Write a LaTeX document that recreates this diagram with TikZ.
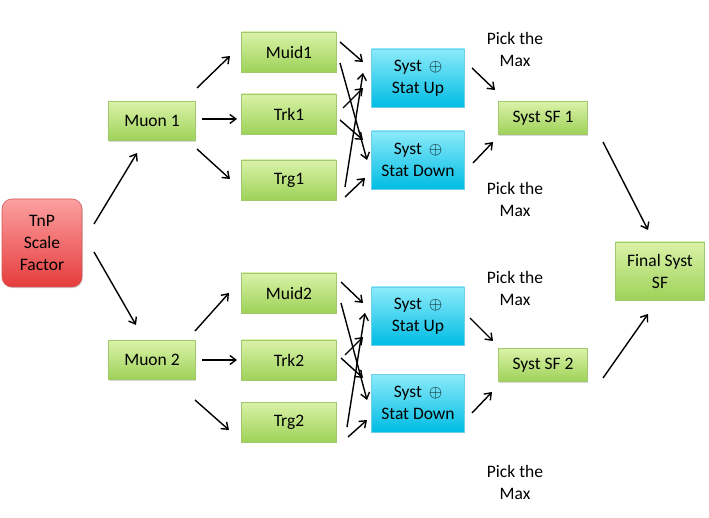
\documentclass[tikz,border=0pt]{standalone}
\usepackage{fontspec}
\setmainfont{Carlito}
\usetikzlibrary{arrows.meta,shadows}
\definecolor{gtop}{RGB}{218,242,168}
\definecolor{gbot}{RGB}{158,210,88}
\definecolor{gline}{RGB}{160,200,110}
\definecolor{ctop}{RGB}{140,235,250}
\definecolor{cbot}{RGB}{0,188,228}
\definecolor{cline}{RGB}{110,205,235}
\definecolor{rtop}{RGB}{252,160,160}
\definecolor{rbot}{RGB}{230,60,60}
\definecolor{rline}{RGB}{210,90,90}
\tikzset{
  base/.style={rectangle,align=center,inner sep=0pt,font=\fontsize{17.5}{22}\selectfont,
    drop shadow={shadow xshift=0.8pt,shadow yshift=-1.2pt,opacity=0.3}},
  gbox/.style={base,draw=gline,line width=0.6pt,top color=gtop,bottom color=gbot},
  cbox/.style={base,draw=cline,line width=0.6pt,top color=ctop,bottom color=cbot,
    minimum width=93pt,minimum height=58pt},
  rbox/.style={base,draw=rline,line width=0.6pt,top color=rtop,bottom color=rbot,
    rounded corners=10pt,minimum width=80pt,minimum height=88pt},
  mid/.style={gbox,minimum width=95pt,minimum height=40pt},
  muon/.style={gbox,minimum width=87pt,minimum height=39pt},
  sfbox/.style={gbox,minimum width=89pt,minimum height=33pt},
  pick/.style={align=center,font=\fontsize{17.5}{22}\selectfont},
  arr/.style={-{Straight Barb[length=6pt,width=9pt]},line width=1.4pt,black}
}
\begin{document}
\begin{tikzpicture}[x=1pt,y=-1pt]
\useasboundingbox (0,0) rectangle (709,518);
% nodes
\node[rbox] (tnp) at (42,243) {TnP\\Scale\\Factor};
\node[muon] (m1) at (152,121) {Muon 1};
\node[muon] (m2) at (152,360) {Muon 2};
\node[mid] (muid1) at (289,52) {Muid1};
\node[mid] (trk1) at (289,114) {Trk1};
\node[mid] (trg1) at (289,180) {Trg1};
\node[mid] (muid2) at (289,293) {Muid2};
\node[mid] (trk2) at (289,360) {Trk2};
\node[mid] (trg2) at (289,422) {Trg2};
\node[cbox] (up1) at (418,78) {Syst \,$\oplus$\\Stat Up};
\node[cbox] (dn1) at (418,160) {Syst \,$\oplus$\\Stat Down};
\node[cbox] (up2) at (418,316) {Syst \,$\oplus$\\Stat Up};
\node[cbox] (dn2) at (418,403) {Syst \,$\oplus$\\Stat Down};
\node[sfbox] (sf1) at (543,118) {Syst SF 1};
\node[sfbox] (sf2) at (543,365) {Syst SF 2};
\node[gbox,minimum width=89pt,minimum height=58pt] (fin) at (660,271) {Final Syst\\SF};
\node[pick] (p1) at (515,49) {Pick the\\Max};
\node[pick] (p2) at (515,199) {Pick the\\Max};
\node[pick] (p3) at (515,288) {Pick the\\Max};
\node[pick] (p4) at (515,482) {Pick the\\Max};
% arrows: TnP to muons
\draw[arr] ([shift={(52,-19)}]tnp.center) -- ([shift={(-15,32)}]m1.center);
\draw[arr] ([shift={(52,9)}]tnp.center) -- ([shift={(-16,-35)}]m2.center);
% muon 1 fan-out
\draw[arr] ([shift={(45,-33)}]m1.center) -- ([shift={(-59,4)}]muid1.center);
\draw[arr] ([shift={(50,-2)}]m1.center) -- ([shift={(-52,5)}]trk1.center);
\draw[arr] ([shift={(45,28)}]m1.center) -- ([shift={(-59,-1)}]trg1.center);
% muon 2 fan-out
\draw[arr] ([shift={(43,-29)}]m2.center) -- ([shift={(-60,0)}]muid2.center);
\draw[arr] ([shift={(50,0)}]m2.center) -- ([shift={(-52,0)}]trk2.center);
\draw[arr] ([shift={(43,40)}]m2.center) -- ([shift={(-60,8)}]trg2.center);
% crossing, top
\draw[arr] ([shift={(51,-10)}]muid1.center) -- ([shift={(-55,-16)}]up1.center);
\draw[arr] ([shift={(51,11)}]muid1.center) -- ([shift={(-51,0)}]dn1.center);
\draw[arr] ([shift={(54,-6)}]trk1.center) -- ([shift={(-55,10)}]up1.center);
\draw[arr] ([shift={(51,6)}]trk1.center) -- ([shift={(-55,-20)}]dn1.center);
\draw[arr] ([shift={(56,7)}]trg1.center) -- ([shift={(-55,-5)}]up1.center);
\draw[arr] ([shift={(56,17)}]trg1.center) -- ([shift={(-53,18)}]dn1.center);
% crossing, bottom
\draw[arr] ([shift={(52,-11)}]muid2.center) -- ([shift={(-55,-13)}]up2.center);
\draw[arr] ([shift={(52,10)}]muid2.center) -- ([shift={(-51,-3)}]dn2.center);
\draw[arr] ([shift={(56,-5)}]trk2.center) -- ([shift={(-55,21)}]up2.center);
\draw[arr] ([shift={(52,-2)}]trk2.center) -- ([shift={(-55,-25)}]dn2.center);
\draw[arr] ([shift={(58,5)}]trg2.center) -- ([shift={(-53,-3)}]up2.center);
\draw[arr] ([shift={(59,15)}]trg2.center) -- ([shift={(-51,17)}]dn2.center);
% to SF boxes
\draw[arr] ([shift={(54,-10)}]up1.center) -- ([shift={(-48,-28)}]sf1.center);
\draw[arr] ([shift={(55,3)}]dn1.center) -- ([shift={(-50,24)}]sf1.center);
\draw[arr] ([shift={(52,2)}]up2.center) -- ([shift={(-50,-24)}]sf2.center);
\draw[arr] ([shift={(54,10)}]dn2.center) -- ([shift={(-51,27)}]sf2.center);
% to final
\draw[arr] ([shift={(60,24)}]sf1.center) -- ([shift={(-12,-41)}]fin.center);
\draw[arr] ([shift={(60,13)}]sf2.center) -- ([shift={(-12,43)}]fin.center);
\end{tikzpicture}
\end{document}
